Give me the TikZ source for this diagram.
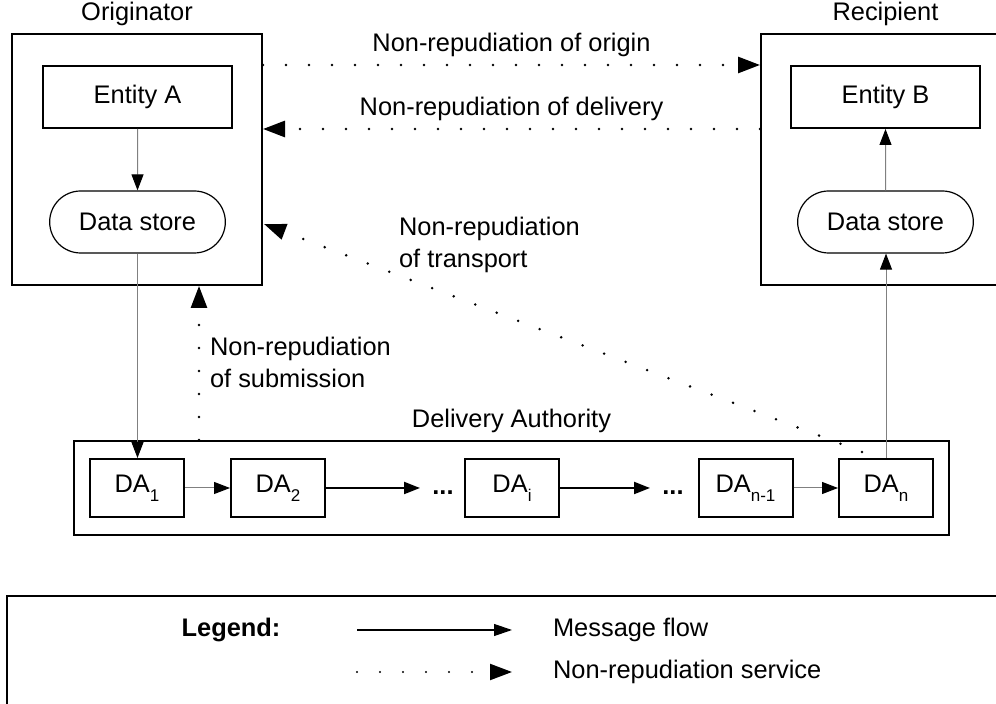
\documentclass[tikz,border=0pt]{standalone}
\usepackage{fontspec}
\setmainfont{Liberation Sans}
\usetikzlibrary{arrows.meta,shapes.misc}

\newcommand\dasub[1]{\raisebox{-4.5pt}{\fontsize{8.5}{9}\selectfont #1}}

\tikzset{
  every node/.style={font=\fontsize{12.7}{16}\selectfont},
  party/.style={draw, line width=1pt, minimum width=125pt, minimum height=125.5pt},
  entity/.style={draw, line width=1pt, minimum width=94.5pt, minimum height=31pt},
  store/.style={draw, rounded rectangle, line width=0.6pt, minimum width=94.5pt, minimum height=31pt},
  da/.style={draw, line width=1pt, minimum width=47pt, minimum height=29pt},
  msg/.style={draw=gray, line width=0.5pt, -{Triangle[length=8pt,width=6pt,color=black]}},
  flow/.style={line width=1pt, -{Triangle[length=8pt,width=6pt]}},
  nrs/.style={line width=1.4pt, line cap=round, dash pattern=on 0pt off 11.5pt, -{Triangle[length=11pt,width=8pt]}},
}

\begin{document}
\begin{tikzpicture}[x=0.5pt,y=-0.5pt]
  \clip (0,0) rectangle (996,704);

  \node[party, label=above:Originator] (orig) at (137,159.5) {};
  \node[party, minimum width=124.5pt, label=above:Recipient] (recip) at (885.5,159.5) {};
  \node[entity] (entA) at (137.5,97) {Entity A};
  \node[store] (storeA) at (137.5,222) {Data store};
  \node[entity] (entB) at (885.5,97) {Entity B};
  \node[store] (storeB) at (885.5,222) {Data store};

  % delivery authority chain
  \node[draw, line width=1pt, minimum width=437.5pt, minimum height=47pt,
        label=above:Delivery Authority] (auth) at (511.5,488) {};
  \node[da] (da1) at (137,488) {DA\dasub{1}};
  \node[da] (da2) at (278,488) {DA\dasub{2}};
  \node[anchor=base, inner sep=6pt] (dotsA) at (443,495) {\textbf{...}};
  \node[da] (dai) at (512,488) {DA\dasub{i}};
  \node[anchor=base, inner sep=6pt] (dotsB) at (673,495) {\textbf{...}};
  \node[da] (dan1) at (745.5,488) {DA\dasub{n-1}};
  \node[da] (dan) at (886,488) {DA\dasub{n}};

  \draw[msg] (entA) -- (storeA);
  \draw[msg] (storeA.south) -- (storeA.south |- da1.north);
  \draw[msg] (da1) -- (da2);
  \draw[flow] (da2) -- (da2 -| dotsA.west);
  \draw[flow] (dai) -- (dai -| dotsB.west);
  \draw[msg] (dan1) -- (dan);
  \draw[msg] (dan.north) -- (dan.north |- storeB.south);
  \draw[msg] (storeB) -- (entB);

  % non-repudiation services
  \draw[nrs] (orig.east |- entA.north) -- node[above] {Non-repudiation of origin} (recip.west |- entA.north);
  \draw[nrs] (recip.west |- entA.south) -- node[above] {Non-repudiation of delivery} (orig.east |- entA.south);
  \coordinate (trans) at (862,452);
  \coordinate (transend) at (264,224);
  \draw[nrs] (trans) -- (transend);
  \node[anchor=west, align=left] (translbl) at (392,245) {Non-repudiation\\of transport};
  \coordinate (subx) at (199,0);
  \draw[nrs] (auth.north -| subx) -- (orig.south -| subx);
  \node[anchor=west, align=left] (sublbl) at (203,362) {Non-repudiation\\of submission};

  % legend
  \draw[line width=1pt] (7,596) rectangle (1010,720);
  \node[font=\fontsize{12.7}{16}\selectfont\bfseries] (legend) at (231,630) {Legend:};
  \coordinate (ma) at (357,630);
  \coordinate (mb) at (512,630);
  \draw[line width=0.6pt, -{Triangle[length=9pt,width=6pt]}] (ma) -- (mb);
  \node[anchor=west] (msgtxt) at (546,630) {Message flow};
  \coordinate (na) at (357,672);
  \coordinate (nb) at (512,672);
  \draw[nrs, line width=1.1pt] (na) -- (nb);
  \node[anchor=west] (nrstxt) at (546,672) {Non-repudiation service};
\end{tikzpicture}
\end{document}
